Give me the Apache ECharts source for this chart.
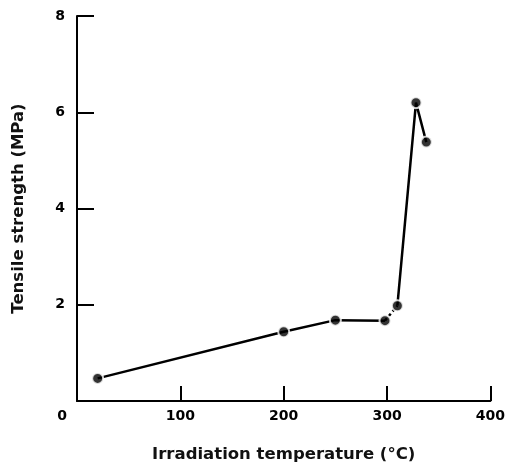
<!DOCTYPE html>
<html>
<head>
<meta charset="utf-8">
<script src="https://cdn.jsdelivr.net/npm/echarts@6/dist/echarts.min.js"></script>
<style>html,body{margin:0;padding:0;background:#fff}#c{width:508px;height:468px}</style>
</head>
<body>
<div id="c"></div>
<script>
// Data
const temps = [20, 200, 250, 298, 310, 328, 338];
const strength = [0.47, 1.44, 1.68, 1.67, 1.98, 6.2, 5.38];
const xTicks = [0, 100, 200, 300, 400];
const yTicks = [0, 2, 4, 6, 8];
const xName = 'Irradiation temperature (°C)';
const yName = 'Tensile strength (MPa)';

const pts = temps.map((t, i) => [t, strength[i]]);
const seg1 = pts.slice(0, 4);   // solid
const seg2 = pts.slice(3, 5);   // dotted
const seg3 = pts.slice(4);      // solid

const chart = echarts.init(document.getElementById('c'), null, {renderer: 'canvas'});
const font = 'DejaVu Sans';
const lineStyle = {color: '#000', width: 2.5};
chart.setOption({
  animation: false,
  backgroundColor: '#fff',
  grid: {left: 77, top: 16, right: 16, bottom: 67},
  xAxis: {
    type: 'value', min: xTicks[0], max: xTicks[xTicks.length - 1], interval: 100,
    name: xName, nameLocation: 'middle', nameGap: 45,
    nameTextStyle: {fontFamily: font, fontSize: 16.5, fontWeight: 'bold', color: '#111'},
    axisLine: {show: true, lineStyle: {color: '#000', width: 2}},
    axisTick: {show: true, inside: true, length: 15, lineStyle: {color: '#000', width: 2}},
    axisLabel: {margin: 8, fontFamily: font, fontSize: 14, fontWeight: 'bold', color: '#000',
      formatter: v => v === 0 ? '{z|0}' : String(v),
      rich: {z: {fontFamily: font, fontSize: 14, fontWeight: 'bold', color: '#000', padding: [0, 30, 0, 0]}}},
    splitLine: {show: false}
  },
  yAxis: {
    type: 'value', min: yTicks[0], max: yTicks[yTicks.length - 1], interval: 2,
    name: yName, nameLocation: 'middle', nameGap: 50,
    nameTextStyle: {fontFamily: font, fontSize: 16.5, fontWeight: 'bold', color: '#111'},
    axisLine: {show: true, lineStyle: {color: '#000', width: 2}},
    axisTick: {show: true, inside: true, length: 17, lineStyle: {color: '#000', width: 2}},
    axisLabel: {margin: 12, fontFamily: font, fontSize: 14, fontWeight: 'bold', color: '#000',
      formatter: v => v === 0 ? '' : String(v)},
    splitLine: {show: false}
  },
  series: [
    {type: 'line', data: seg1, symbol: 'none', lineStyle: lineStyle, z: 2},
    {type: 'line', data: seg2, symbol: 'none', lineStyle: {color: '#000', width: 2.5, type: [3, 3]}, z: 2},
    {type: 'line', data: seg3, symbol: 'none', lineStyle: lineStyle, z: 2},
    {type: 'scatter', data: pts, symbol: 'circle', symbolSize: 11,
      itemStyle: {color: '#000', borderColor: '#fff', borderWidth: 2}, z: 3}
  ]
});
</script>
</body>
</html>
